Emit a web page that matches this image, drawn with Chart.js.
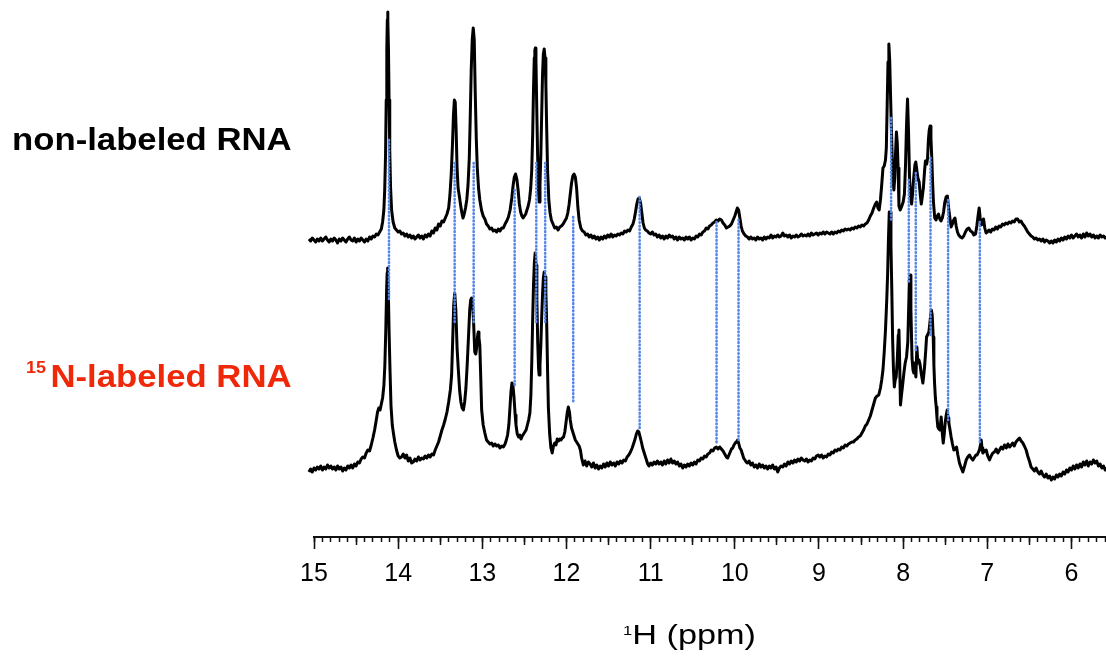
<!DOCTYPE html>
<html>
<head>
<meta charset="utf-8">
<script src="https://cdn.jsdelivr.net/npm/chart.js@4.4.1/dist/chart.umd.min.js"></script>
<style>
  html, body { margin: 0; padding: 0; background: #fff; }
  #wrap { position: relative; width: 1106px; height: 666px; overflow: hidden; background: #fff; }
  #c { position: absolute; left: 0; top: 0; }
  .lbl { position: absolute; font-family: "Liberation Sans", Arial, sans-serif; font-weight: bold; font-size: 31px; line-height: 31px; white-space: nowrap; transform: scaleX(1.12); transform-origin: 0 0; }
  .sup15 { font-size: 16px; position: relative; top: -14px; margin-right: 4px; }
  #xtitle { position: absolute; left: 623px; top: 622px; font-family: "Liberation Sans", Arial, sans-serif; font-size: 27px; line-height: 27px; color: #000; white-space: nowrap; transform: scaleX(1.27); transform-origin: 0 0; }
  #xtitle .s { font-size: 13px; position: relative; top: -9px; }
</style>
</head>
<body>
<div id="wrap">
  <canvas id="c" width="1106" height="666"></canvas>
  <div class="lbl" id="l1" style="left:12px; top:124px; color:#000;">non-labeled RNA</div>
  <div class="lbl" id="l2" style="left:26px; top:361px; color:#f0280a;"><span class="sup15">15</span>N-labeled RNA</div>
  <div id="xtitle"><span class="s">1</span>H (ppm)</div>
</div>
<script>
// ---- data: [ppm, intensity] ----
const topSpectrum = [
[15.06,1],[15.04,-1],[15.02,2],[15.00,0],[14.98,-2],[14.96,1],[14.94,-1],[14.92,2],[14.90,-1],[14.88,1],[14.86,3],[14.84,0],[14.82,-2],[14.80,1],[14.78,-1],[14.76,2],[14.74,0],[14.72,-3],[14.70,1],[14.68,-1],[14.66,2],[14.64,0],[14.62,-2],[14.60,1],[14.58,3],[14.56,0],[14.54,-1],[14.52,2],[14.50,-2],[14.48,1],[14.46,-1],[14.44,2],[14.42,0],[14.40,-2],[14.38,1],[14.36,-1],[14.34,3],[14.32,1],[14.30,4],[14.28,3],[14.26,6],[14.24,5],[14.22,8],[14.20,11],
[14.185,18],[14.17,30],[14.16,50],[14.15,85],[14.142,140],[14.135,190],[14.129,220],[14.125,228],[14.121,220],[14.115,190],[14.108,140],[14.10,90],[14.09,52],[14.078,30],[14.06,18],[14.04,12],[14.02,10],[14.00,8],[13.98,9],[13.96,6],[13.94,7],[13.92,4],[13.90,6],[13.88,3],[13.86,5],[13.84,2],[13.82,4],[13.80,1],[13.78,3],[13.76,5],[13.74,2],[13.72,4],[13.70,1],[13.68,5],[13.66,3],[13.64,6],[13.62,4],[13.60,9],[13.58,7],[13.56,12],[13.54,10],[13.52,16],[13.50,14],[13.48,19],[13.46,18],[13.44,22],[13.42,26],[13.40,32],[13.385,45],[13.37,65],[13.355,95],[13.343,125],[13.332,140],[13.322,138],[13.312,112],[13.30,72],[13.288,52],[13.275,45],[13.26,36],[13.245,28],[13.23,22],[13.215,26],[13.20,32],[13.185,40],[13.17,55],[13.155,82],[13.143,125],[13.132,170],[13.12,200],[13.108,212],[13.096,200],[13.085,150],[13.072,102],[13.06,72],[13.045,52],[13.03,40],[13.01,30],[12.99,24],[12.97,21],[12.95,16],[12.93,14],[12.91,11],[12.89,12],[12.87,9],[12.85,10],[12.83,8],[12.81,11],[12.79,9],[12.77,12],[12.75,12],[12.73,16],[12.71,19],[12.69,23],[12.67,30],[12.65,42],[12.635,54],[12.62,63],[12.605,66],[12.59,61],[12.575,50],[12.56,36],[12.545,28],[12.53,24],[12.515,22],[12.50,24],[12.485,26],[12.47,30],[12.455,34],[12.44,40],[12.425,52],[12.413,70],[12.402,105],[12.392,150],[12.383,182],[12.376,190],[12.37,192],[12.363,180],[12.353,130],[12.343,85],[12.333,50],[12.325,38],[12.315,55],[12.305,85],[12.295,125],[12.285,165],[12.275,186],[12.265,191],[12.255,182],[12.245,155],[12.235,110],[12.225,70],[12.21,40],[12.195,27],[12.18,20],[12.16,16],[12.14,12],[12.12,13],[12.10,10],[12.08,13],[12.06,14],[12.04,16],[12.02,19],[12.00,22],[11.985,27],[11.97,35],[11.955,46],[11.94,57],[11.925,64],[11.91,66],[11.895,63],[11.88,52],[11.865,33],[11.85,20],[11.83,12],[11.81,9],[11.79,8],[11.77,5],[11.75,6],[11.73,3],[11.71,5],[11.69,2],[11.67,4],[11.65,1],[11.63,3],[11.61,0],[11.59,3],[11.57,1],[11.55,4],[11.53,2],[11.51,5],[11.49,3],[11.47,6],[11.45,3],[11.43,5],[11.41,4],[11.39,6],[11.37,5],[11.35,7],[11.33,6],[11.31,9],[11.29,8],[11.27,10],[11.25,9],[11.23,13],[11.21,16],[11.195,21],[11.18,28],[11.165,36],[11.15,41],[11.135,42],[11.12,37],[11.105,27],[11.09,17],[11.075,12],[11.06,10],[11.04,9],[11.02,7],[11.00,6],[10.98,8],[10.96,5],[10.94,6],[10.92,3],[10.90,5],[10.88,2],[10.86,4],[10.84,1],[10.82,4],[10.80,2],[10.78,5],[10.76,3],[10.74,4],[10.72,1],[10.70,3],[10.68,0],[10.66,3],[10.64,1],[10.62,2],[10.60,0],[10.58,3],[10.56,1],[10.54,3],[10.52,0],[10.50,2],[10.48,1],[10.46,4],[10.44,3],[10.42,6],[10.40,5],[10.38,8],[10.36,9],[10.34,12],[10.32,11],[10.30,14],[10.28,15],[10.26,17],[10.24,18],[10.22,20],[10.20,19],[10.18,21],[10.16,20],[10.14,17],[10.12,15],[10.10,12],[10.08,13],[10.06,14],[10.04,16],[10.02,20],[10.00,24],[9.985,28],[9.97,32],[9.955,30],[9.94,22],[9.925,14],[9.91,9],[9.89,6],[9.87,4],[9.85,3],[9.83,1],[9.81,3],[9.79,1],[9.77,2],[9.75,0],[9.73,3],[9.71,1],[9.69,2],[9.67,0],[9.65,3],[9.63,1],[9.61,3],[9.59,2],[9.57,5],[9.55,2],[9.53,4],[9.51,3],[9.49,5],[9.47,3],[9.45,4],[9.43,7],[9.41,4],[9.39,5],[9.37,3],[9.35,5],[9.33,2],[9.31,4],[9.29,3],[9.27,5],[9.25,3],[9.23,4],[9.21,6],[9.19,4],[9.17,5],[9.15,4],[9.13,6],[9.11,4],[9.09,7],[9.07,5],[9.05,6],[9.03,7],[9.01,5],[8.99,7],[8.97,6],[8.95,8],[8.93,6],[8.91,8],[8.89,7],[8.87,6],[8.85,8],[8.83,6],[8.81,8],[8.79,7],[8.77,9],[8.75,8],[8.73,10],[8.71,9],[8.69,11],[8.67,10],[8.65,11],[8.63,10],[8.61,12],[8.59,11],[8.57,13],[8.55,12],[8.53,14],[8.51,13],[8.49,15],[8.47,14],[8.45,16],[8.43,17],[8.41,20],[8.39,24],[8.37,27],[8.35,32],[8.33,36],[8.315,38],[8.30,32],[8.285,30],[8.27,40],[8.255,55],[8.24,72],[8.225,74],[8.21,80],[8.20,92],[8.19,135],[8.18,178],[8.17,196],[8.16,180],[8.15,145],[8.14,112],[8.13,82],[8.12,57],[8.11,50],[8.10,62],[8.09,88],[8.08,108],[8.07,97],[8.06,72],[8.05,34],[8.035,30],[8.02,33],[8.00,38],[7.985,46],[7.972,75],[7.96,115],[7.948,141],[7.936,108],[7.925,64],[7.913,42],[7.90,36],[7.89,45],[7.875,62],[7.86,75],[7.85,78],[7.838,70],[7.825,62],[7.81,58],[7.795,44],[7.785,36],[7.775,42],[7.76,52],[7.745,70],[7.735,79],[7.72,76],[7.71,82],[7.70,100],[7.69,110],[7.68,114],[7.67,102],[7.66,82],[7.65,57],[7.64,38],[7.625,22],[7.61,20],[7.595,24],[7.58,26],[7.565,21],[7.55,19],[7.535,22],[7.52,28],[7.505,38],[7.49,43],[7.475,44],[7.46,32],[7.445,22],[7.43,13],[7.415,16],[7.40,20],[7.385,22],[7.37,14],[7.355,8],[7.34,5],[7.32,3],[7.30,2],[7.28,4],[7.26,8],[7.24,11],[7.22,12],[7.20,9],[7.18,8],[7.16,5],[7.14,6],[7.125,14],[7.11,24],[7.097,32],[7.085,22],[7.07,15],[7.055,18],[7.045,21],[7.03,12],[7.015,7],[7.00,8],[6.98,10],[6.96,8],[6.94,11],[6.92,10],[6.90,13],[6.88,11],[6.86,14],[6.84,13],[6.82,16],[6.80,15],[6.78,17],[6.76,16],[6.74,18],[6.72,17],[6.70,19],[6.68,18],[6.66,21],[6.64,21],[6.62,18],[6.60,19],[6.58,16],[6.56,14],[6.54,11],[6.52,8],[6.50,6],[6.48,4],[6.46,3],[6.44,1],[6.42,2],[6.40,0],[6.38,1],[6.36,-1],[6.34,1],[6.32,-2],[6.30,0],[6.28,-1],[6.26,-3],[6.24,-1],[6.22,-3],[6.20,0],[6.18,-2],[6.16,1],[6.14,-1],[6.12,2],[6.10,0],[6.08,3],[6.06,1],[6.04,4],[6.02,2],[6.00,5],[5.98,2],[5.96,4],[5.94,6],[5.92,3],[5.90,5],[5.88,2],[5.86,6],[5.84,3],[5.82,7],[5.80,4],[5.78,6],[5.76,3],[5.74,5],[5.72,2],[5.70,4],[5.68,2],[5.66,5],[5.64,3],[5.62,4],[5.60,2],[5.58,3]
];

const labeledSpectrum = [
[15.06,-2],[15.04,1],[15.02,-2],[15.00,2],[14.98,0],[14.96,3],[14.94,1],[14.92,4],[14.90,0],[14.88,3],[14.86,1],[14.84,5],[14.82,2],[14.80,4],[14.78,1],[14.76,3],[14.74,0],[14.72,4],[14.70,1],[14.68,3],[14.66,-1],[14.64,2],[14.62,0],[14.60,4],[14.58,2],[14.56,5],[14.54,2],[14.52,6],[14.50,4],[14.48,8],[14.46,7],[14.44,11],[14.42,13],[14.40,12],[14.38,17],[14.36,20],[14.34,19],[14.32,25],[14.30,32],[14.28,40],[14.26,50],[14.245,58],[14.23,62],[14.215,60],[14.20,66],[14.185,72],[14.17,84],[14.158,105],[14.147,140],[14.137,180],[14.131,197],[14.127,202],[14.123,197],[14.117,180],[14.107,135],[14.097,100],[14.085,64],[14.07,45],[14.055,36],[14.04,28],[14.02,20],[14.00,14],[13.98,12],[13.96,13],[13.94,16],[13.92,12],[13.90,15],[13.88,9],[13.86,12],[13.84,7],[13.82,8],[13.80,11],[13.78,9],[13.76,13],[13.74,10],[13.72,12],[13.70,11],[13.68,14],[13.66,12],[13.64,15],[13.62,13],[13.60,16],[13.58,15],[13.56,20],[13.54,24],[13.52,28],[13.50,34],[13.48,40],[13.46,45],[13.44,51],[13.42,58],[13.40,68],[13.38,80],[13.365,95],[13.352,130],[13.34,165],[13.328,177],[13.315,160],[13.30,122],[13.285,100],[13.27,80],[13.255,68],[13.24,62],[13.225,60],[13.21,68],[13.195,82],[13.18,105],[13.165,132],[13.15,160],[13.138,170],[13.127,172],[13.115,165],[13.105,150],[13.09,118],[13.078,116],[13.068,122],[13.055,135],[13.048,138],[13.04,132],[13.03,125],[13.018,90],[13.008,60],[12.99,45],[12.97,37],[12.95,30],[12.93,28],[12.91,26],[12.89,27],[12.87,24],[12.85,26],[12.83,24],[12.81,25],[12.79,22],[12.77,24],[12.75,23],[12.73,26],[12.715,30],[12.70,35],[12.685,45],[12.672,62],[12.66,78],[12.648,87],[12.636,84],[12.623,72],[12.61,55],[12.60,45],[12.585,36],[12.57,33],[12.555,35],[12.54,31],[12.525,34],[12.51,36],[12.495,38],[12.48,40],[12.465,45],[12.45,50],[12.435,57],[12.423,75],[12.412,110],[12.402,150],[12.392,185],[12.382,207],[12.372,217],[12.362,205],[12.352,170],[12.342,128],[12.332,102],[12.325,95],[12.315,105],[12.305,125],[12.295,152],[12.285,175],[12.275,192],[12.265,198],[12.255,193],[12.245,178],[12.235,145],[12.225,100],[12.215,62],[12.20,36],[12.185,22],[12.17,17],[12.155,24],[12.14,27],[12.125,25],[12.11,31],[12.095,29],[12.08,31],[12.065,30],[12.05,32],[12.035,33],[12.02,38],[12.005,48],[11.99,58],[11.978,63],[11.965,58],[11.955,50],[11.94,42],[11.925,38],[11.91,34],[11.895,30],[11.88,28],[11.865,26],[11.85,24],[11.835,20],[11.82,12],[11.80,5],[11.78,9],[11.76,4],[11.74,8],[11.72,6],[11.70,3],[11.68,7],[11.66,2],[11.64,5],[11.62,1],[11.60,4],[11.58,2],[11.56,6],[11.54,3],[11.52,7],[11.50,4],[11.48,8],[11.46,5],[11.44,7],[11.42,4],[11.40,8],[11.38,6],[11.36,9],[11.34,7],[11.32,10],[11.30,9],[11.28,13],[11.26,15],[11.24,18],[11.22,22],[11.20,27],[11.185,31],[11.17,36],[11.155,39],[11.14,38],[11.125,33],[11.11,28],[11.095,22],[11.08,18],[11.065,14],[11.05,10],[11.035,6],[11.02,4],[11.00,7],[10.98,5],[10.96,8],[10.94,6],[10.92,9],[10.90,6],[10.88,8],[10.86,5],[10.84,9],[10.82,6],[10.80,10],[10.78,7],[10.76,11],[10.74,7],[10.72,9],[10.70,6],[10.68,8],[10.66,4],[10.64,6],[10.62,2],[10.60,5],[10.58,3],[10.56,6],[10.54,4],[10.52,7],[10.50,5],[10.48,8],[10.46,6],[10.44,10],[10.42,9],[10.40,12],[10.38,11],[10.36,14],[10.34,13],[10.32,16],[10.30,17],[10.28,20],[10.26,19],[10.24,22],[10.22,23],[10.20,21],[10.18,23],[10.16,21],[10.14,19],[10.12,16],[10.10,13],[10.085,12],[10.07,15],[10.055,18],[10.04,21],[10.025,22],[10.01,25],[9.995,27],[9.98,28],[9.967,30],[9.955,27],[9.94,22],[9.925,20],[9.91,16],[9.895,12],[9.88,10],[9.865,8],[9.85,7],[9.83,9],[9.81,5],[9.79,7],[9.77,3],[9.75,5],[9.73,2],[9.71,6],[9.69,3],[9.67,5],[9.65,2],[9.63,4],[9.61,1],[9.59,4],[9.57,2],[9.55,5],[9.53,1],[9.51,3],[9.49,-2],[9.47,2],[9.45,4],[9.43,3],[9.41,6],[9.39,4],[9.37,8],[9.35,6],[9.33,9],[9.31,7],[9.29,10],[9.27,8],[9.25,11],[9.23,9],[9.21,12],[9.19,10],[9.17,9],[9.15,11],[9.13,8],[9.11,10],[9.09,9],[9.07,12],[9.05,11],[9.03,14],[9.01,15],[8.99,13],[8.97,15],[8.95,12],[8.93,14],[8.91,13],[8.89,16],[8.87,15],[8.85,18],[8.83,17],[8.81,20],[8.79,19],[8.77,21],[8.75,20],[8.73,23],[8.71,22],[8.69,25],[8.67,24],[8.65,26],[8.63,27],[8.61,28],[8.59,28],[8.57,30],[8.55,31],[8.53,33],[8.51,34],[8.49,37],[8.47,40],[8.45,44],[8.43,46],[8.41,50],[8.39,54],[8.37,60],[8.35,66],[8.33,72],[8.31,74],[8.29,75],[8.27,82],[8.255,90],[8.24,100],[8.225,118],[8.21,140],[8.195,170],[8.185,195],[8.175,230],[8.165,258],[8.155,258],[8.145,225],[8.135,180],[8.125,130],[8.115,100],[8.105,83],[8.095,90],[8.083,93],[8.07,110],[8.058,135],[8.05,140],[8.042,110],[8.032,65],[8.02,75],[8.004,87],[7.99,98],[7.976,107],[7.96,113],[7.945,128],[7.935,160],[7.926,190],[7.918,195],[7.908,160],[7.895,112],[7.883,100],[7.873,97],[7.861,107],[7.849,93],[7.837,123],[7.825,107],[7.812,110],[7.80,106],[7.786,97],[7.766,87],[7.755,95],[7.746,103],[7.733,118],[7.722,133],[7.705,136],[7.694,138],[7.685,145],[7.675,153],[7.665,160],[7.655,155],[7.643,133],[7.635,105],[7.627,87],[7.617,72],[7.607,63],[7.598,52],[7.588,43],[7.576,41],[7.564,40],[7.556,46],[7.548,53],[7.536,38],[7.524,27],[7.512,36],[7.501,47],[7.49,54],[7.477,60],[7.467,52],[7.457,47],[7.443,40],[7.43,33],[7.414,26],[7.398,20],[7.382,21],[7.366,23],[7.35,15],[7.331,7],[7.31,2],[7.291,-2],[7.27,4],[7.251,10],[7.232,13],[7.212,15],[7.192,12],[7.172,10],[7.15,13],[7.135,15],[7.121,15],[7.105,18],[7.093,20],[7.08,26],[7.073,30],[7.063,22],[7.053,17],[7.035,19],[7.014,20],[6.995,14],[6.974,10],[6.955,14],[6.935,17],[6.915,18],[6.895,21],[6.875,17],[6.855,20],[6.835,23],[6.815,21],[6.796,25],[6.775,22],[6.755,26],[6.735,23],[6.717,25],[6.70,27],[6.68,24],[6.66,28],[6.64,30],[6.618,32],[6.598,29],[6.578,27],[6.56,24],[6.539,20],[6.52,14],[6.50,9],[6.48,3],[6.46,1],[6.44,-1],[6.42,2],[6.40,-2],[6.38,-4],[6.36,-1],[6.34,-5],[6.32,-7],[6.30,-4],[6.28,-8],[6.26,-6],[6.24,-10],[6.22,-7],[6.20,-9],[6.18,-5],[6.16,-7],[6.14,-4],[6.12,-6],[6.10,-2],[6.08,-4],[6.06,0],[6.04,-2],[6.02,2],[6.00,0],[5.98,4],[5.96,1],[5.94,5],[5.92,2],[5.90,6],[5.88,3],[5.86,8],[5.84,5],[5.82,9],[5.80,4],[5.78,8],[5.76,6],[5.74,10],[5.72,7],[5.70,9],[5.68,4],[5.66,6],[5.64,2],[5.62,4],[5.60,0],[5.58,2]
];

// correlated peaks: ppm, intensity on top trace, intensity on labeled trace
const linkPpm    = [14.109, 13.329, 13.103, 12.616, 12.359, 12.253, 11.92, 11.131, 10.217, 9.956, 8.143, 7.933, 7.85, 7.675, 7.466, 7.089];
const linkTop    = [100, 77, 77, 50, 77, 77, 23, 43, 18, 20, 122, 60, 67, 82, 40, 18];
const linkBottom = [168, 145, 145, 85, 145, 145, 67, 40, 27, 30, 248, 187, 120, 135, 50, 28];

const majorTicks = [6, 7, 8, 9, 10, 11, 12, 13, 14, 15];
const xMin = 5.59, xMax = 15;

// ---- layout constants ----
const TOP_OFFSET = 297;    // stacking offset of the non-labeled trace
const BOTTOM_OFFSET = 67;  // stacking offset of the labeled trace

const toXY = (arr, off) => arr.map(([p, v]) => ({ x: p, y: v + off }));

const datasets = [
  { data: toXY(topSpectrum, TOP_OFFSET), borderColor: '#000', borderWidth: 3, pointRadius: 0, tension: 0, clip: false, order: 2, borderJoinStyle: 'round' },
  { data: toXY(labeledSpectrum, BOTTOM_OFFSET), borderColor: '#000', borderWidth: 3, pointRadius: 0, tension: 0, clip: false, order: 2, borderJoinStyle: 'round' }
];
linkPpm.forEach((p, i) => {
  datasets.push({
    data: [{ x: p, y: linkTop[i] + TOP_OFFSET }, { x: p, y: linkBottom[i] + BOTTOM_OFFSET }],
    borderColor: '#5686ea', borderWidth: 2.6, borderDash: [0.6, 3], borderCapStyle: 'round', pointRadius: 0, clip: false, order: 1
  });
});

const minorVals = [];
for (let k = 56; k <= 150; k++) minorVals.push(k / 10);
const halfVals = [];
for (let k = 6; k < 15; k++) halfVals.push(k + 0.5);

new Chart(document.getElementById('c'), {
  type: 'line',
  data: { datasets },
  options: {
    responsive: false,
    animation: false,
    devicePixelRatio: 1,
    layout: { padding: { left: 314, right: 0, top: 0, bottom: 0 } },
    plugins: { legend: { display: false }, tooltip: { enabled: false } },
    scales: {
      x: {
        type: 'linear', reverse: true, min: xMin, max: xMax, position: 'bottom',
        afterBuildTicks: s => { s.ticks = majorTicks.map(v => ({ value: v })); },
        afterFit: s => { s.height = 129; },
        ticks: { color: '#000', font: { family: 'Liberation Sans', size: 25 }, padding: 10, maxRotation: 0, autoSkip: false, callback: v => String(v) },
        grid: { drawOnChartArea: false, drawTicks: true, tickLength: 12, color: '#111', tickWidth: 1.6 },
        border: { display: true, color: '#111', width: 2 }
      },
      xHalf: {
        type: 'linear', axis: 'x', reverse: true, min: xMin, max: xMax, position: { y: 0 },
        afterBuildTicks: s => { s.ticks = halfVals.map(v => ({ value: v })); },
        ticks: { display: false },
        grid: { drawOnChartArea: false, drawTicks: true, tickLength: 8, color: '#111', tickWidth: 1.5 },
        border: { display: false }
      },
      xMinor: {
        type: 'linear', axis: 'x', reverse: true, min: xMin, max: xMax, position: { y: 0 },
        afterBuildTicks: s => { s.ticks = minorVals.map(v => ({ value: v })); },
        ticks: { display: false },
        grid: { drawOnChartArea: false, drawTicks: true, tickLength: 5, color: '#111', tickWidth: 1.5 },
        border: { display: false }
      },
      y: { type: 'linear', display: false, min: 0, max: 537 }
    }
  }
});
</script>
</body>
</html>
